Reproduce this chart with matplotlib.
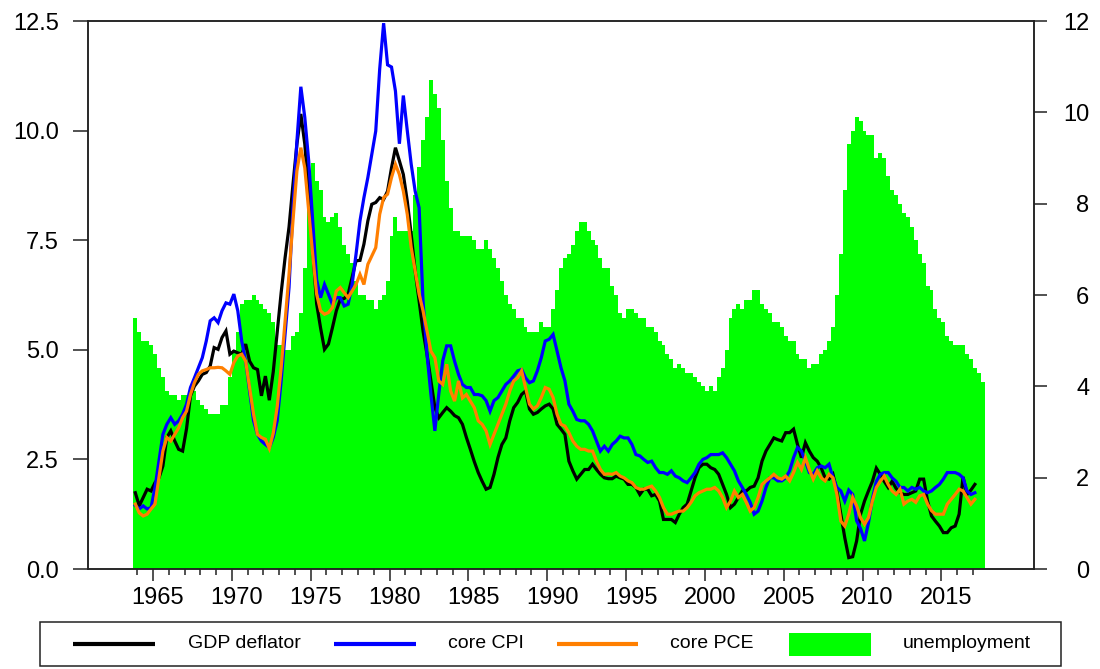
import numpy as np
import matplotlib
matplotlib.use("Agg")
import matplotlib.pyplot as plt
from matplotlib.transforms import ScaledTranslation
from matplotlib.patches import Rectangle
from matplotlib.lines import Line2D

plt.rcParams['font.family'] = ['Liberation Sans', 'DejaVu Sans']

# ---------------- data (quarterly, starting 1964Q1) ----------------
first_year = 1964

gdp_deflator = [
    1.74, 1.44, 1.63, 1.82, 1.78, 1.97, 2.08, 2.35, 3.00, 3.15,
    2.92, 2.73, 2.69, 3.20, 3.95, 4.17, 4.29, 4.44, 4.48, 4.63,
    5.05, 5.01, 5.28, 5.43, 4.90, 4.97, 4.93, 4.90, 5.13, 4.74,
    4.59, 4.55, 3.95, 4.40, 3.85, 4.50, 5.40, 6.30, 7.10, 7.80,
    8.77, 9.69, 10.38, 9.69, 8.55, 7.33, 6.05, 5.50, 5.01, 5.13,
    5.50, 5.89, 6.15, 6.17, 6.27, 6.65, 7.03, 7.04, 7.41, 7.94,
    8.32, 8.36, 8.47, 8.43, 8.62, 9.15, 9.61, 9.31, 9.00, 8.39,
    7.63, 6.80, 6.11, 5.43, 4.90, 4.29, 3.68, 3.45, 3.57, 3.68,
    3.60, 3.50, 3.45, 3.30, 3.00, 2.73, 2.45, 2.20, 2.00, 1.82,
    1.86, 2.16, 2.54, 2.84, 2.99, 3.38, 3.68, 3.80, 3.98, 4.06,
    3.65, 3.53, 3.57, 3.65, 3.72, 3.76, 3.65, 3.30, 3.19, 3.07,
    2.46, 2.24, 2.05, 2.16, 2.27, 2.27, 2.39, 2.27, 2.16, 2.08,
    2.06, 2.06, 2.12, 2.08, 2.05, 1.93, 1.93, 1.86, 1.70, 1.82,
    1.82, 1.67, 1.70, 1.55, 1.13, 1.13, 1.13, 1.06, 1.25, 1.40,
    1.48, 1.78, 2.08, 2.31, 2.39, 2.39, 2.31, 2.27, 2.16, 1.93,
    1.70, 1.40, 1.48, 1.63, 1.78, 1.78, 1.86, 1.89, 2.08, 2.46,
    2.69, 2.84, 2.99, 2.95, 2.92, 3.11, 3.11, 3.19, 2.84, 2.54,
    2.88, 2.69, 2.54, 2.46, 2.31, 2.08, 2.05, 2.16, 1.78, 1.25,
    0.71, 0.26, 0.28, 0.64, 1.25, 1.55, 1.78, 2.00, 2.30, 2.16,
    2.00, 1.86, 2.00, 1.84, 1.74, 1.70, 1.70, 1.74, 1.78, 2.05,
    2.05, 1.55, 1.21, 1.09, 0.98, 0.83, 0.83, 0.94, 0.98, 1.25,
    2.10, 1.70, 1.80, 1.93,
]

core_cpi = [
    1.45, 1.37, 1.44, 1.37, 1.40, 1.86, 2.46, 3.07, 3.30, 3.45,
    3.30, 3.38, 3.53, 3.76, 4.14, 4.36, 4.59, 4.82, 5.20, 5.66,
    5.73, 5.62, 5.89, 6.07, 6.04, 6.27, 5.89, 5.20, 4.74, 4.06,
    3.38, 3.07, 2.92, 2.84, 2.77, 3.00, 3.38, 4.29, 5.35, 6.42,
    8.24, 9.76, 11.00, 10.30, 9.30, 7.94, 6.60, 6.19, 6.49, 6.27,
    6.04, 6.19, 6.19, 6.00, 6.04, 6.49, 7.18, 7.94, 8.47, 8.93,
    9.46, 9.99, 11.40, 12.45, 11.50, 11.45, 10.90, 9.70, 10.80, 10.00,
    9.23, 8.62, 8.24, 6.11, 4.90, 3.98, 3.15, 4.00, 4.75, 5.09,
    5.09, 4.74, 4.44, 4.21, 4.14, 4.14, 3.98, 3.98, 3.95, 3.84,
    3.60, 3.84, 3.91, 4.06, 4.21, 4.29, 4.40, 4.52, 4.55, 4.36,
    4.25, 4.29, 4.52, 4.82, 5.20, 5.24, 5.35, 4.97, 4.59, 4.29,
    3.76, 3.60, 3.41, 3.38, 3.38, 3.30, 3.15, 2.92, 2.69, 2.80,
    2.69, 2.84, 2.92, 3.03, 2.99, 2.99, 2.84, 2.61, 2.58, 2.50,
    2.43, 2.46, 2.31, 2.20, 2.20, 2.16, 2.24, 2.12, 2.08, 2.01,
    1.97, 2.08, 2.20, 2.39, 2.50, 2.54, 2.61, 2.61, 2.61, 2.65,
    2.54, 2.39, 2.24, 2.01, 1.86, 1.70, 1.52, 1.25, 1.32, 1.55,
    1.86, 2.08, 2.08, 2.01, 2.01, 2.08, 2.24, 2.54, 2.77, 2.69,
    2.46, 2.20, 2.16, 2.31, 2.35, 2.31, 2.39, 2.08, 1.86, 1.78,
    1.55, 1.80, 1.70, 1.10, 0.92, 0.64, 1.05, 1.60, 2.00, 2.16,
    2.20, 2.20, 2.08, 2.00, 1.86, 1.86, 1.78, 1.86, 1.82, 1.86,
    1.78, 1.74, 1.78, 1.86, 1.93, 2.05, 2.20, 2.20, 2.20, 2.16,
    2.08, 1.78, 1.70, 1.74,
]

core_pce = [
    1.48, 1.28, 1.21, 1.25, 1.37, 1.48, 2.08, 2.69, 3.00, 2.92,
    3.07, 3.22, 3.45, 3.60, 3.98, 4.25, 4.44, 4.52, 4.55, 4.59,
    4.59, 4.60, 4.59, 4.52, 4.44, 4.71, 4.86, 4.90, 4.74, 4.14,
    3.53, 3.07, 3.00, 2.96, 2.75, 3.10, 3.70, 4.59, 5.66, 6.72,
    7.94, 9.08, 9.61, 9.15, 8.17, 7.18, 6.27, 5.89, 5.81, 5.85,
    5.96, 6.34, 6.42, 6.30, 6.19, 6.34, 6.49, 6.72, 6.49, 6.95,
    7.14, 7.33, 8.09, 8.47, 8.55, 8.93, 9.23, 9.00, 8.62, 8.09,
    7.33, 6.80, 6.27, 5.89, 5.43, 4.97, 4.82, 4.29, 4.21, 4.67,
    4.06, 3.83, 4.29, 3.90, 3.98, 3.83, 3.68, 3.38, 3.30, 3.15,
    2.84, 3.07, 3.30, 3.53, 3.76, 4.06, 4.29, 4.36, 4.52, 4.14,
    3.76, 3.65, 3.72, 3.91, 4.14, 4.10, 3.91, 3.53, 3.30, 3.26,
    3.11, 2.92, 2.80, 2.73, 2.73, 2.69, 2.69, 2.46, 2.27, 2.16,
    2.17, 2.16, 2.20, 2.12, 2.08, 2.01, 1.97, 1.86, 1.82, 1.82,
    1.86, 1.89, 1.78, 1.63, 1.40, 1.25, 1.25, 1.29, 1.32, 1.32,
    1.40, 1.52, 1.67, 1.74, 1.78, 1.82, 1.82, 1.86, 1.78, 1.63,
    1.40, 1.55, 1.78, 1.63, 1.70, 1.52, 1.32, 1.40, 1.63, 1.93,
    2.01, 2.08, 2.16, 2.08, 2.05, 2.12, 2.01, 2.20, 2.43, 2.27,
    2.54, 2.27, 2.05, 2.24, 2.08, 2.01, 2.16, 2.08, 1.70, 1.09,
    0.98, 1.25, 1.63, 1.44, 1.17, 1.02, 1.17, 1.55, 1.86, 2.00,
    2.12, 1.93, 1.78, 1.70, 1.82, 1.48, 1.55, 1.59, 1.52, 1.67,
    1.70, 1.48, 1.33, 1.25, 1.25, 1.25, 1.48, 1.59, 1.70, 1.82,
    1.78, 1.63, 1.48, 1.59,
]

unemployment = [
    5.5, 5.2, 5.0, 5.0,   4.9, 4.7, 4.4, 4.2,   3.9, 3.8, 3.8, 3.7,
    3.8, 3.8, 3.8, 3.9,   3.7, 3.6, 3.5, 3.4,   3.4, 3.4, 3.6, 3.6,
    4.2, 4.8, 5.2, 5.8,   5.9, 5.9, 6.0, 5.9,   5.8, 5.7, 5.6, 5.4,
    4.9, 4.9, 4.8, 4.8,   5.1, 5.2, 5.6, 6.6,   8.3, 8.9, 8.5, 8.3,
    7.7, 7.6, 7.7, 7.8,   7.5, 7.1, 6.9, 6.7,   6.3, 6.0, 6.0, 5.9,
    5.9, 5.7, 5.9, 6.0,   6.3, 7.3, 7.7, 7.4,   7.4, 7.4, 7.4, 8.2,
    8.8, 9.4, 9.9, 10.7,  10.4, 10.1, 9.4, 8.5, 7.9, 7.4, 7.4, 7.3,
    7.3, 7.3, 7.2, 7.0,   7.0, 7.2, 7.0, 6.8,   6.6, 6.3, 6.0, 5.8,
    5.7, 5.5, 5.5, 5.3,   5.2, 5.2, 5.2, 5.4,   5.3, 5.3, 5.7, 6.1,
    6.6, 6.8, 6.9, 7.1,   7.4, 7.6, 7.6, 7.4,   7.2, 7.1, 6.8, 6.6,
    6.6, 6.2, 6.0, 5.6,   5.5, 5.7, 5.7, 5.6,   5.5, 5.5, 5.3, 5.3,
    5.2, 5.0, 4.9, 4.7,   4.6, 4.4, 4.5, 4.4,   4.3, 4.3, 4.2, 4.1,
    4.0, 3.9, 4.0, 3.9,   4.2, 4.4, 4.8, 5.5,   5.7, 5.8, 5.7, 5.9,
    5.9, 6.1, 6.1, 5.8,   5.7, 5.6, 5.4, 5.4,   5.3, 5.1, 5.0, 5.0,
    4.7, 4.6, 4.6, 4.4,   4.5, 4.5, 4.7, 4.8,   5.0, 5.3, 6.0, 6.9,
    8.3, 9.3, 9.6, 9.9,   9.8, 9.6, 9.5, 9.5,   9.0, 9.1, 9.0, 8.6,
    8.3, 8.2, 8.0, 7.8,   7.7, 7.5, 7.2, 6.9,   6.7, 6.2, 6.1, 5.7,
    5.5, 5.4, 5.1, 5.0,   4.9, 4.9, 4.9, 4.7,   4.6, 4.4, 4.3, 4.1,
]

labels = ['GDP deflator', 'core CPI', 'core PCE', 'unemployment']
colors = ['#000000', '#0000ff', '#ff7f00', '#00ff00']
major_years = list(range(1965, 2016, 5))
minor_years = [y for y in range(1964, 2018) if y % 5 != 0]
left_ticks = [0.0, 2.5, 5.0, 7.5, 10.0, 12.5]
right_ticks = [0, 2, 4, 6, 8, 10, 12]

# ---------------- figure ----------------
W, H = 1100, 669
fig = plt.figure(figsize=(W / 100, H / 100), dpi=100)
ax = fig.add_axes([88 / W, 1 - 569 / H, 946 / W, 548 / H])
ax2 = ax.twinx()
ax.set_zorder(ax2.get_zorder() + 1)
ax.patch.set_visible(False)

# quarter positions (centred within each quarter slot)
n_u = len(unemployment)
q_pos_u = first_year - 0.125 + 0.25 * np.arange(n_u)
edges = np.append(q_pos_u - 0.125, q_pos_u[-1] + 0.125)
ax2.stairs(unemployment, edges, fill=True, color=colors[3], baseline=0,
           linewidth=0)

lw = 2.3
for vals, col in zip([gdp_deflator, core_cpi, core_pce], colors[:3]):
    xq = first_year - 0.125 + 0.25 * np.arange(len(vals))
    ax.plot(xq, vals, color=col, linewidth=lw, solid_joinstyle='miter')

ax.set_xlim(1960.875, 2020.875)
ax.set_ylim(0, 12.5)
ax2.set_ylim(0, 12)

ax.set_xticks(major_years)
ax.set_xticklabels([str(y) for y in major_years])
ax.set_xticks(minor_years, minor=True)
ax.set_yticks(left_ticks)
ax.set_yticklabels(['%.1f' % v for v in left_ticks])
ax2.set_yticks(right_ticks)
ax2.set_yticklabels([str(v) for v in right_ticks])

spine_w = 1.1
for a in (ax, ax2):
    for s in a.spines.values():
        s.set_linewidth(spine_w)
        s.set_color('#222222')

ax.tick_params(axis='x', which='major', direction='out', length=8.6,
               width=spine_w, labelsize=17, pad=4.5, colors='#222222',
               labelcolor='black')
ax.tick_params(axis='x', which='minor', direction='out', length=4.3,
               width=spine_w, colors='#222222')
ax.tick_params(axis='y', which='major', direction='out', length=10.8,
               width=spine_w, labelsize=17, pad=10, left=True, right=False,
               colors='#222222', labelcolor='black')
ax2.tick_params(axis='y', which='major', direction='out', length=9.4,
                width=spine_w, labelsize=17, pad=30.5, colors='#222222',
                labelcolor='black')
for t in ax2.get_yticklabels():
    t.set_horizontalalignment('right')
off = ScaledTranslation(5 / 100, 0, fig.dpi_scale_trans)
for t in ax.get_xticklabels():
    t.set_transform(t.get_transform() + off)

# ---------------- legend (drawn below the axes) ----------------
def fx(px):
    return px / W

def fy(py):
    return 1 - py / H

fig.patches.append(Rectangle((fx(40), fy(666)), fx(1061) - fx(40),
                             fy(622) - fy(666), transform=fig.transFigure,
                             fill=False, edgecolor='#222222', linewidth=1.1))
handle_x = [(72.5, 154.5), (334, 416), (557, 638)]
text_x = [187.6, 448, 670, 903]
ly = 644
for (x0, x1), col in zip(handle_x, colors[:3]):
    fig.lines.append(Line2D([fx(x0), fx(x1)], [fy(ly), fy(ly)],
                            transform=fig.transFigure, color=col,
                            linewidth=3.0, solid_capstyle='butt'))
fig.patches.append(Rectangle((fx(788.5), fy(656)), fx(871) - fx(788.5),
                             fy(633) - fy(656), transform=fig.transFigure,
                             facecolor=colors[3], edgecolor='none'))
for tx, lab in zip(text_x, labels):
    fig.text(fx(tx), fy(ly), lab, fontsize=14, ha='left', va='center',
             color='black')

fig.savefig('out.png', dpi=100)
